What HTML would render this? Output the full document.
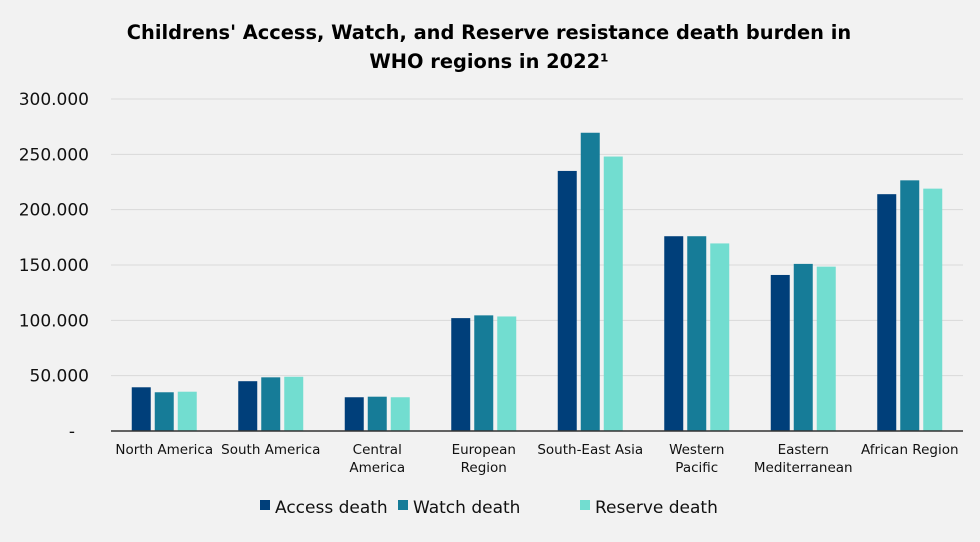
<!DOCTYPE html>
<html><head><meta charset="utf-8"><style>
body{margin:0;background:#f2f2f2;}
svg{display:block;font-family:"DejaVu Sans","Liberation Sans",sans-serif;}
</style></head><body>
<svg id="chart" width="980" height="542" viewBox="0 0 980 542">
<rect width="980" height="542" fill="#f2f2f2"/>
<text x="489" y="39" text-anchor="middle" font-size="19.4" font-weight="bold" fill="#000">Childrens' Access, Watch, and Reserve resistance death burden in</text>
<text x="489" y="68" text-anchor="middle" font-size="19.4" font-weight="bold" fill="#000">WHO regions in 2022¹</text>
<g id="grid"></g><g id="bars"></g><g id="xlabels"></g><g id="ylabels"></g>
<line x1="111" y1="431" x2="963" y2="431" stroke="#333" stroke-width="1.5"/>
<g>
<rect x="260" y="500" width="10" height="10" fill="#003f7a"/>
<text x="275" y="513" font-size="17" fill="#111">Access death</text>
<rect x="398" y="500" width="10" height="10" fill="#167c98"/>
<text x="413" y="513" font-size="17" fill="#111">Watch death</text>
<rect x="580" y="500" width="10" height="10" fill="#72ddd0"/>
<text x="595" y="513" font-size="17" fill="#111">Reserve death</text>
</g>
</svg>
<script>
const categories=[["North America"],["South America"],["Central","America"],["European","Region"],["South-East Asia"],["Western","Pacific"],["Eastern","Mediterranean"],["African Region"]];
const accessDeath=[39500,45000,30500,102000,235000,176000,141000,214000];
const watchDeath=[35000,48500,31000,104500,269500,176000,151000,226500];
const reserveDeath=[35500,49000,30500,103500,248000,169500,148500,219000];
const yTicks=[0,50000,100000,150000,200000,250000,300000];
const yTickLabels=["-","50.000","100.000","150.000","200.000","250.000","300.000"];
const ns="http://www.w3.org/2000/svg";
const x0=111,x1=963,y0=431,y1=99,yMax=300000;
const band=(x1-x0)/categories.length;
function y(v){return y0-(v/yMax)*(y0-y1);}
function xc(i){return x0+band*(i+0.5);}
const grid=document.getElementById('grid'),bars=document.getElementById('bars'),xl=document.getElementById('xlabels'),yl=document.getElementById('ylabels');
yTicks.forEach((t,i)=>{
 if(t>0){const l=document.createElementNS(ns,'line');
 l.setAttribute('x1',x0);l.setAttribute('x2',x1);l.setAttribute('y1',y(t));l.setAttribute('y2',y(t));
 l.setAttribute('stroke','#d9d9d9');l.setAttribute('stroke-width','1');
 
 
 grid.appendChild(l);}
 const tx=document.createElementNS(ns,'text');
 tx.setAttribute('x',t>0?89:75);tx.setAttribute('y',y(t)+6);tx.setAttribute('text-anchor','end');tx.setAttribute('font-size','17');tx.setAttribute('fill','#111');
 tx.textContent=yTickLabels[i];
 
 
 yl.appendChild(tx);
});
const series=[[accessDeath,'#003f7a','access'],[watchDeath,'#167c98','watch'],[reserveDeath,'#72ddd0','reserve']];
const bw=19,gap=4;
categories.forEach((c,i)=>{
 series.forEach((s,j)=>{
  const r=document.createElementNS(ns,'rect');
  const bx=xc(i)-(bw*1.5+gap)+j*(bw+gap);
  r.setAttribute('x',bx);r.setAttribute('width',bw);r.setAttribute('y',y(s[0][i]));r.setAttribute('height',y0-y(s[0][i]));r.setAttribute('fill',s[1]);
  
  
  bars.appendChild(r);
 });
 c.forEach((line,k)=>{
  const tx=document.createElementNS(ns,'text');
  tx.setAttribute('x',xc(i));tx.setAttribute('y',454+k*18);tx.setAttribute('text-anchor','middle');tx.setAttribute('font-size','13.5');tx.setAttribute('fill','#111');
  tx.textContent=line;
  
  
  xl.appendChild(tx);
 });
});
</script>
</body></html>
